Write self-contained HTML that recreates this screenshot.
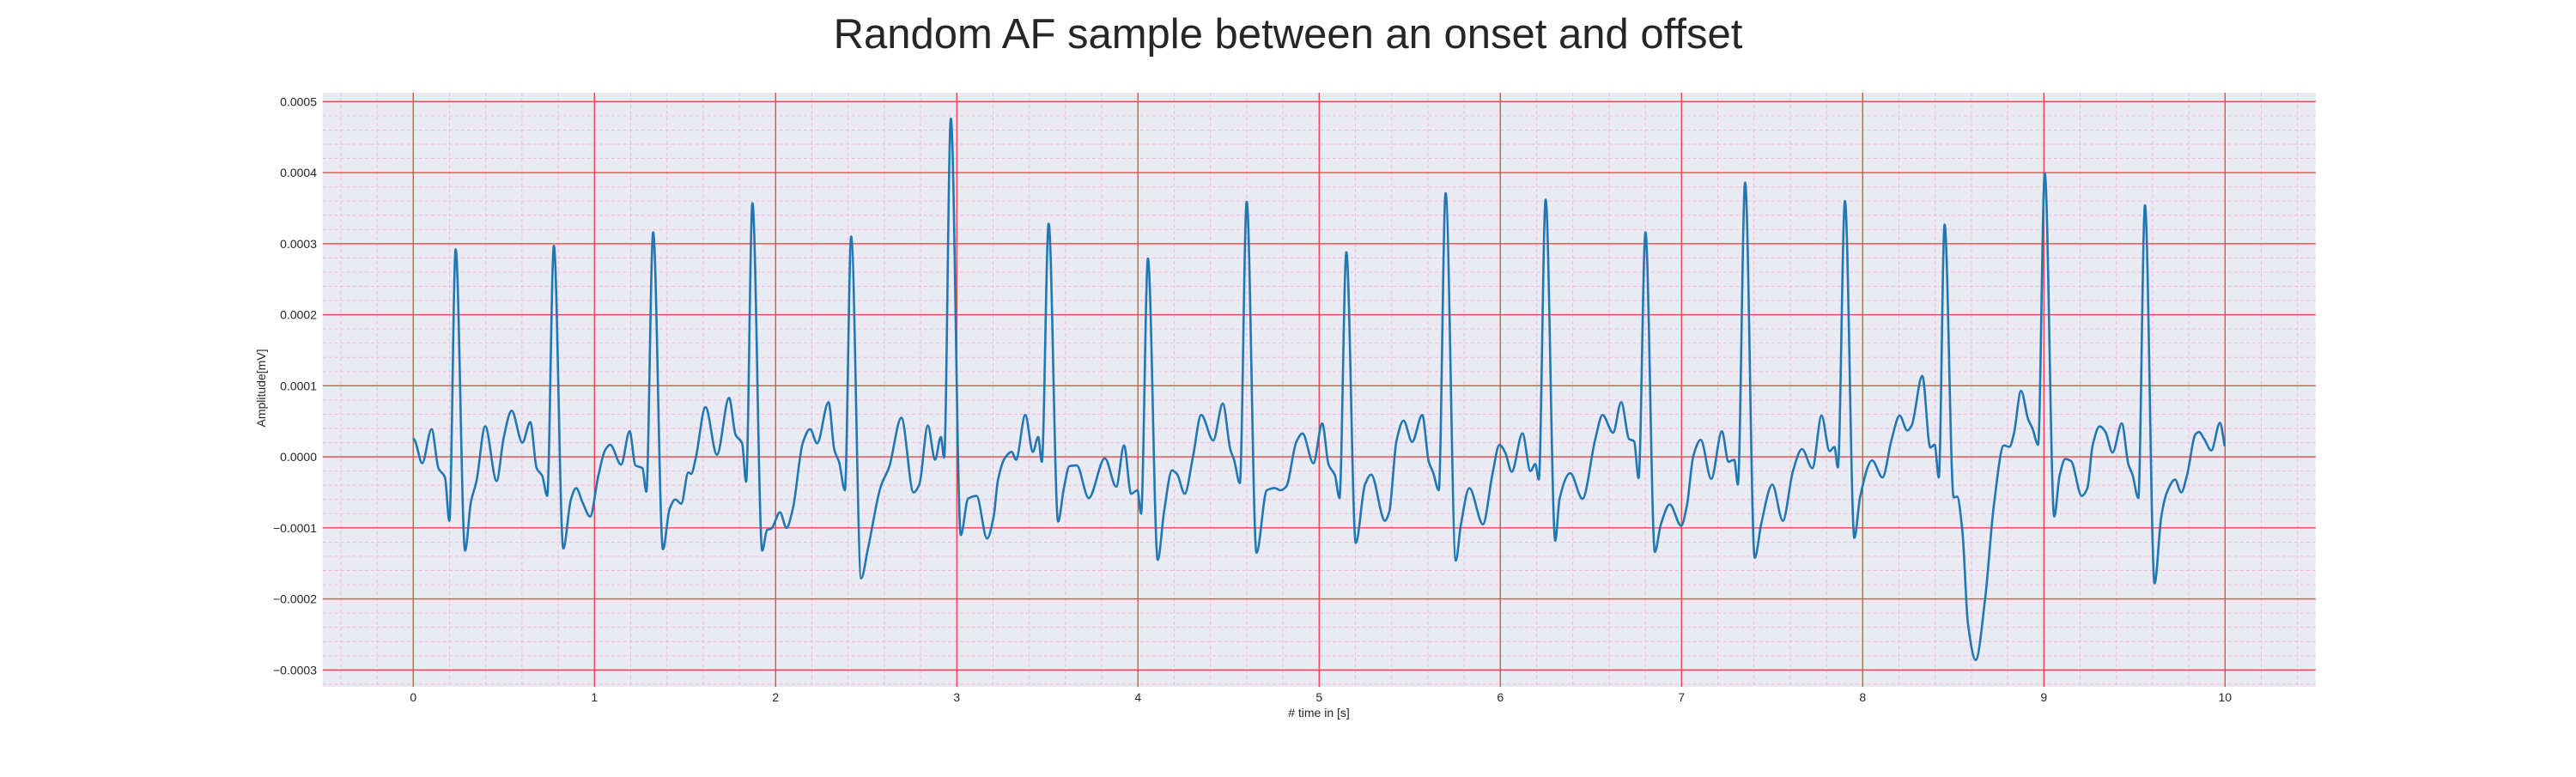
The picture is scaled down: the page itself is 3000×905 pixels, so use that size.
<!DOCTYPE html>
<html><head><meta charset="utf-8"><style>
body{margin:0;background:#fff;}
svg text{font-family:"Liberation Sans",Arial,sans-serif;fill:#262626;}
</style></head><body>
<svg id="chart" width="3000" height="900" viewBox="0 0 3000 900" xmlns="http://www.w3.org/2000/svg">
<text x="1500" y="56" font-size="49" text-anchor="middle" style="fill:#262626">Random AF sample between an onset and offset</text>
<rect x="375.8" y="108" width="2321" height="692" fill="#eaeaf2"/>
<g id="grid"></g>
<g id="ticks"></g>
<path id="ecg" fill="none" stroke="#1f77b4" stroke-width="2.6" stroke-linejoin="round"/>
<text x="0" y="0" font-size="14" text-anchor="middle" transform="translate(309,452) rotate(-90)">Amplitude[mV]</text>
<text x="1536" y="835" font-size="14" text-anchor="middle"># time in [s]</text>
</svg>
<script>
const timeS = [0,0.009,0.049,0.101,0.139,0.175,0.199,0.234,0.286,0.318,0.349,0.397,0.46,0.499,0.543,0.602,0.646,0.681,0.712,0.739,0.776,0.828,0.87,0.899,0.934,0.976,1.021,1.06,1.087,1.147,1.194,1.226,1.265,1.286,1.324,1.378,1.415,1.447,1.479,1.518,1.534,1.558,1.613,1.676,1.743,1.779,1.815,1.837,1.872,1.926,1.953,1.976,2.024,2.06,2.095,2.15,2.19,2.229,2.292,2.324,2.351,2.382,2.417,2.472,2.509,2.58,2.627,2.694,2.761,2.793,2.84,2.88,2.912,2.93,2.967,3.022,3.062,3.109,3.167,3.204,3.227,3.267,3.303,3.327,3.378,3.42,3.449,3.469,3.507,3.559,3.591,3.622,3.662,3.728,3.817,3.88,3.923,3.962,3.997,4.017,4.055,4.109,4.144,4.188,4.215,4.258,4.302,4.349,4.415,4.468,4.51,4.531,4.562,4.6,4.654,4.711,4.755,4.787,4.818,4.874,4.908,4.968,5.017,5.052,5.087,5.112,5.15,5.202,5.253,5.287,5.363,5.387,5.427,5.466,5.513,5.569,5.605,5.629,5.66,5.698,5.754,5.782,5.829,5.904,5.956,5.995,6.027,6.063,6.122,6.166,6.193,6.212,6.25,6.303,6.327,6.386,6.453,6.524,6.564,6.622,6.667,6.711,6.738,6.763,6.801,6.853,6.885,6.935,6.998,7.03,7.065,7.106,7.164,7.223,7.259,7.291,7.311,7.351,7.404,7.441,7.501,7.559,7.615,7.665,7.722,7.773,7.817,7.844,7.863,7.902,7.954,7.986,8.052,8.109,8.16,8.204,8.246,8.27,8.329,8.373,8.397,8.42,8.452,8.502,8.521,8.55,8.581,8.624,8.676,8.724,8.779,8.81,8.834,8.874,8.913,8.937,8.968,9.005,9.057,9.087,9.118,9.15,9.209,9.24,9.269,9.308,9.34,9.379,9.43,9.466,9.49,9.521,9.558,9.611,9.648,9.679,9.724,9.758,9.79,9.837,9.856,9.885,9.924,9.972,9.998];
const ampE4 = [0.26,0.23,-0.09,0.39,-0.16,-0.29,-0.9,2.92,-1.32,-0.64,-0.34,0.43,-0.34,0.27,0.65,0.2,0.49,-0.16,-0.27,-0.55,2.97,-1.29,-0.6,-0.44,-0.64,-0.84,-0.27,0.1,0.17,-0.11,0.36,-0.12,-0.16,-0.49,3.16,-1.3,-0.73,-0.6,-0.66,-0.22,-0.24,-0.03,0.7,0.03,0.83,0.31,0.19,-0.35,3.57,-1.32,-1.03,-1.01,-0.78,-1.0,-0.73,0.2,0.39,0.19,0.77,0.1,-0.08,-0.47,3.1,-1.71,-1.3,-0.42,-0.14,0.55,-0.5,-0.39,0.44,-0.04,0.28,-0.01,4.76,-1.1,-0.59,-0.55,-1.15,-0.83,-0.33,-0.01,0.07,-0.04,0.59,0.07,0.28,-0.07,3.28,-0.91,-0.44,-0.13,-0.12,-0.58,-0.02,-0.42,0.16,-0.52,-0.47,-0.8,2.79,-1.45,-0.77,-0.19,-0.24,-0.52,-0.02,0.59,0.23,0.75,0.1,-0.05,-0.37,3.59,-1.35,-0.47,-0.44,-0.47,-0.42,0.21,0.33,-0.09,0.47,-0.11,-0.26,-0.58,2.88,-1.21,-0.39,-0.25,-0.9,-0.77,0.23,0.51,0.21,0.59,-0.07,-0.22,-0.47,3.71,-1.46,-0.96,-0.44,-0.95,-0.25,0.17,0.06,-0.21,0.33,-0.2,-0.1,-0.32,3.62,-1.18,-0.59,-0.23,-0.59,0.25,0.59,0.34,0.77,0.25,0.22,-0.3,3.16,-1.34,-0.96,-0.67,-0.97,-0.68,0.01,0.24,-0.31,0.36,-0.07,-0.04,-0.39,3.86,-1.42,-0.93,-0.39,-0.9,-0.2,0.11,-0.16,0.58,0.08,0.14,-0.15,3.6,-1.14,-0.56,-0.05,-0.29,0.25,0.58,0.37,0.44,1.14,0.13,0.17,-0.29,3.27,-0.57,-0.56,-1.04,-2.35,-2.86,-1.99,-0.68,0.16,0.14,0.32,0.93,0.53,0.4,0.17,3.99,-0.84,-0.26,-0.03,-0.06,-0.55,-0.44,0.16,0.43,0.35,0.06,0.47,-0.1,-0.26,-0.58,3.54,-1.78,-0.84,-0.5,-0.32,-0.5,-0.26,0.32,0.35,0.25,0.09,0.48,0.15];
const yTickLabels = ["0.0005","0.0004","0.0003","0.0002","0.0001","0.0000","\u22120.0001","\u22120.0002","\u22120.0003"];
const yTickValues = [5,4,3,2,1,0,-1,-2,-3];
const xTickValues = [0,1,2,3,4,5,6,7,8,9,10];

const L=375.8,R=2696.8,T=108,B=800;
function xs(t){return 481.3+t*211;}
function ys(v){return 532.1-v*82.75;}
const NS="http://www.w3.org/2000/svg";
const grid=document.getElementById('grid');
const ticks=document.getElementById('ticks');
function line(x1,y1,x2,y2,stroke,w,dash,name){
  const l=document.createElementNS(NS,'line');
  l.setAttribute('x1',x1);l.setAttribute('y1',y1);l.setAttribute('x2',x2);l.setAttribute('y2',y2);
  l.setAttribute('stroke',stroke);l.setAttribute('stroke-width',w);
  if(dash)l.setAttribute('stroke-dasharray',dash);
  
  
  grid.appendChild(l);
}
for(let i=-3;i<=53;i++){const t=i*0.2;if(Math.abs(t-Math.round(t))<1e-6)continue;const x=xs(t);if(x<L||x>R)continue;line(x,T,x,B,'#f4b4e4',0.9,'4,3','minor-grid-x');}
for(let i=-16;i<=27;i++){const v=i*0.2;if(Math.abs(v-Math.round(v))<1e-6)continue;const y=ys(v);if(y<T||y>B)continue;line(L,y,R,y,'#f4b4e4',0.9,'4,3','minor-grid-y');}
xTickValues.forEach(t=>line(xs(t),T,xs(t),B,'#f04848',1.4,null,'major-grid-x'));
yTickValues.forEach(v=>line(L,ys(v),R,ys(v),'#f04848',1.4,null,'major-grid-y'));
yTickValues.forEach((v,i)=>{const tx=document.createElementNS(NS,'text');tx.setAttribute('x',369);tx.setAttribute('y',ys(v)+5);tx.setAttribute('font-size','14');tx.setAttribute('text-anchor','end');tx.textContent=yTickLabels[i];


ticks.appendChild(tx);});
xTickValues.forEach(t=>{const tx=document.createElementNS(NS,'text');tx.setAttribute('x',xs(t));tx.setAttribute('y',817);tx.setAttribute('font-size','14');tx.setAttribute('text-anchor','middle');tx.textContent=String(t);


ticks.appendChild(tx);});
// monotone cubic (Fritsch-Carlson) through the data points
const P=timeS.map((t,i)=>[xs(t),ys(ampE4[i])]);
const n=P.length, dk=[], m=[];
for(let i=0;i<n-1;i++)dk.push((P[i+1][1]-P[i][1])/(P[i+1][0]-P[i][0]));
m[0]=dk[0];m[n-1]=dk[n-2];
for(let i=1;i<n-1;i++){ if(dk[i-1]*dk[i]<=0)m[i]=0; else { const h0=P[i][0]-P[i-1][0],h1=P[i+1][0]-P[i][0]; const w1=2*h1+h0,w2=h1+2*h0; m[i]=(w1+w2)/(w1/dk[i-1]+w2/dk[i]); } }
let d='M'+P[0][0].toFixed(2)+','+P[0][1].toFixed(2);
for(let i=0;i<n-1;i++){
  const h=(P[i+1][0]-P[i][0])/3;
  d+=' C'+(P[i][0]+h).toFixed(2)+','+(P[i][1]+m[i]*h).toFixed(2)+' '+(P[i+1][0]-h).toFixed(2)+','+(P[i+1][1]-m[i+1]*h).toFixed(2)+' '+P[i+1][0].toFixed(2)+','+P[i+1][1].toFixed(2);
}
document.getElementById('ecg').setAttribute('d',d);
</script>
</body></html>
